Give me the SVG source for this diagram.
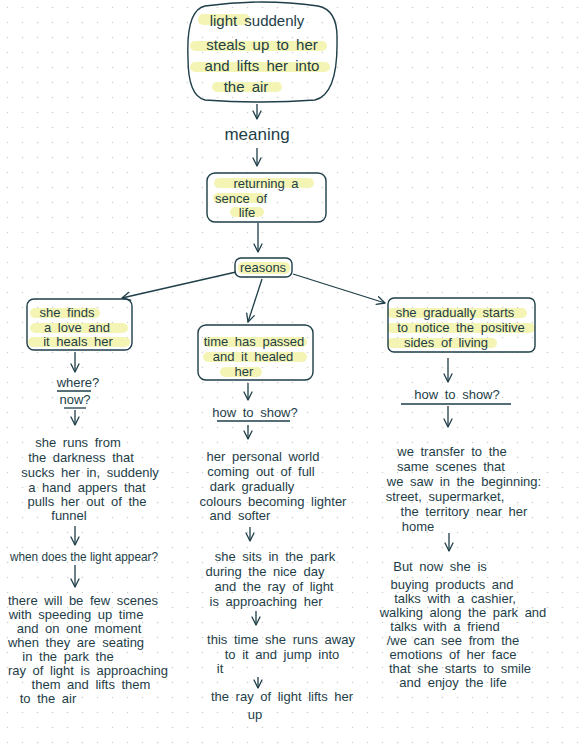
<svg xmlns="http://www.w3.org/2000/svg" width="580" height="750" viewBox="0 0 580 750">
<defs>
<pattern id="dots" x="0" y="0" width="15" height="15" patternUnits="userSpaceOnUse">
<circle cx="7.5" cy="7.5" r="0.8" fill="#cfcfcf"/>
</pattern>
<marker id="ah" viewBox="0 0 10 10" refX="9" refY="5" markerWidth="10" markerHeight="10" markerUnits="userSpaceOnUse" orient="auto">
<path d="M1,1 L9,5 L1,9" fill="none" stroke="#1e3e48" stroke-width="1.3" stroke-linecap="round" stroke-linejoin="round"/>
</marker>
<style>
text{font-family:"Liberation Sans","DejaVu Sans",sans-serif;fill:#1e3e48;text-anchor:middle;word-spacing:3px}
.t{font-size:13px}
.big{font-size:15px}
.box{fill:none;stroke:#1e3e48;stroke-width:1.4}
.hl{fill:#f4f5b4}
.ul{stroke:#1e3e48;stroke-width:1.3;fill:none}
.c line{stroke:#1e3e48;stroke-width:1.3;marker-end:url(#ah)}
</style>
</defs>
<rect width="580" height="750" fill="#ffffff"/>
<rect width="580" height="750" fill="url(#dots)"/>

<g id="top">
<rect class="hl" x="198" y="14" width="52" height="11" rx="5"/>
<rect class="hl" x="190" y="41" width="137" height="10" rx="5"/>
<rect class="hl" x="190" y="62" width="140" height="10" rx="5"/>
<rect class="hl" x="212" y="82" width="70" height="10" rx="5"/>
<path class="box" d="M205,6 Q262,-2 318,6 Q338,10 337,40 Q338,94 315,100 Q262,104 205,100 Q188,96 188,58 Q186,10 205,6 Z"/>
<text class="big" x="257" y="26">light suddenly</text>
<text class="big" x="262" y="50">steals up to her</text>
<text class="big" x="262" y="71">and lifts her into</text>
<text class="big" x="246" y="92">the air</text>
</g>

<g id="meaning">
<text x="257" y="140" style="font-size:17px">meaning</text>
</g>

<g id="returning">
<rect class="hl" x="214" y="178" width="100" height="10" rx="5"/>
<rect class="hl" x="213" y="193" width="52" height="10" rx="5"/>
<rect class="hl" x="230" y="207" width="34" height="10" rx="5"/>
<rect class="box" x="207" y="173" width="119" height="49" rx="8"/>
<text class="t" x="266" y="188">returning  a</text>
<text class="t" x="241" y="203">sence of</text>
<text class="t" x="247" y="217">life</text>
</g>

<g id="reasons">
<rect class="hl" x="238" y="262" width="52" height="12" rx="5"/>
<rect class="box" x="235" y="258" width="57" height="19" rx="6"/>
<text class="t" x="263" y="272">reasons</text>
</g>

<g id="love">
<rect class="hl" x="30" y="308" width="70" height="10" rx="5"/>
<rect class="hl" x="30" y="323" width="98" height="10" rx="5"/>
<rect class="hl" x="28" y="337" width="102" height="10" rx="5"/>
<rect class="box" x="27" y="299" width="105" height="51" rx="7"/>
<text class="t" x="67" y="317">she   finds</text>
<text class="t" x="77" y="332">a love  and</text>
<text class="t" x="78" y="346">it heals her</text>
</g>

<g id="healed">
<rect class="hl" x="203" y="337" width="104" height="10" rx="5"/>
<rect class="hl" x="203" y="352" width="104" height="10" rx="5"/>
<rect class="hl" x="220" y="367" width="42" height="10" rx="5"/>
<rect class="box" x="198" y="325" width="115" height="55" rx="8"/>
<text class="t" x="254" y="346">time has passed</text>
<text class="t" x="253" y="361">and it healed</text>
<text class="t" x="244" y="376">her</text>
</g>

<g id="positive">
<rect class="hl" x="387" y="308" width="140" height="10" rx="5"/>
<rect class="hl" x="387" y="323" width="148" height="10" rx="5"/>
<rect class="hl" x="387" y="338" width="110" height="10" rx="5"/>
<rect class="box" x="388" y="298" width="147" height="54" rx="6"/>
<text class="t" x="455" y="317">she gradually starts</text>
<text class="t" x="461" y="332">to notice the positive</text>
<text class="t" x="446" y="347">sides of living</text>
</g>

<g id="where">
<text class="t" x="78" y="387">where?</text>
<line class="ul" x1="57" y1="391" x2="91" y2="391"/>
<text class="t" x="75" y="404">now?</text>
<line class="ul" x1="64" y1="408" x2="86" y2="408"/>
</g>

<g id="runs">
<text class="t" x="78" y="447">she runs from</text>
<text class="t" x="81" y="462">the darkness that</text>
<text class="t" x="90" y="477">sucks her in, suddenly</text>
<text class="t" x="87" y="492">a hand appers that</text>
<text class="t" x="87" y="506">pulls her out of the</text>
<text class="t" x="69" y="520">funnel</text>
</g>

<g id="when">
<text class="t" x="84" y="561" textLength="148" lengthAdjust="spacingAndGlyphs" style="word-spacing:0">when does the light appear?</text>
</g>

<g id="scenes">
<text class="t" x="83" y="605">there will be few scenes</text>
<text class="t" x="76" y="619">with speeding up time</text>
<text class="t" x="79" y="633">and  on one moment</text>
<text class="t" x="76" y="647">when they are seating</text>
<text class="t" x="68" y="661">in the  park  the</text>
<text class="t" x="88" y="675">ray of light is approaching</text>
<text class="t" x="91" y="689">them and lifts them</text>
<text class="t" x="48" y="703">to the air</text>
</g>

<g id="how-mid">
<text class="t" x="255" y="417">how to show?</text>
<line class="ul" x1="217" y1="421" x2="290" y2="421"/>
</g>

<g id="world">
<text class="t" x="263" y="461">her personal world</text>
<text class="t" x="261" y="476">coming out of full</text>
<text class="t" x="252" y="491">dark  gradually</text>
<text class="t" x="273" y="506">colours becoming lighter</text>
<text class="t" x="240" y="520">and softer</text>
</g>

<g id="sits">
<text class="t" x="275" y="561">she sits in the park</text>
<text class="t" x="265" y="576">during the nice day</text>
<text class="t" x="274" y="591">and the ray of light</text>
<text class="t" x="266" y="606">is approaching her</text>
</g>

<g id="runs-away">
<text class="t" x="281" y="644">this time she runs away</text>
<text class="t" x="282" y="659">to it   and jump into</text>
<text class="t" x="220" y="673">it</text>
</g>

<g id="lifts">
<text class="t" x="282" y="701">the ray of light lifts her</text>
<text class="t" x="255" y="719">up</text>
</g>

<g id="how-right">
<text class="t" x="457" y="399">how  to  show?</text>
<line class="ul" x1="401" y1="404" x2="511" y2="404"/>
</g>

<g id="transfer">
<text class="t" x="452" y="456">we transfer to the</text>
<text class="t" x="451" y="471">same scenes that</text>
<text class="t" x="464" y="486">we saw in the beginning:</text>
<text class="t" x="445" y="501">street, supermarket,</text>
<text class="t" x="464" y="516">the territory near her</text>
<text class="t" x="418" y="531">home</text>
</g>

<g id="but-now">
<text class="t" x="440" y="571">But now  she  is</text>
<text class="t" x="452" y="589">buying  products and</text>
<text class="t" x="455" y="603">talks with a cashier,</text>
<text class="t" x="463" y="617">walking along the park and</text>
<text class="t" x="445" y="631">talks with a friend</text>
<text class="t" x="453" y="645">/we can see from the</text>
<text class="t" x="453" y="659">emotions of her face</text>
<text class="t" x="460" y="673">that she starts to smile</text>
<text class="t" x="453" y="687">and enjoy the life</text>
</g>

<g id="connectors" class="c">
<line x1="257" y1="104" x2="257" y2="119"/>
<line x1="257" y1="148" x2="257" y2="166"/>
<line x1="258" y1="223" x2="258" y2="252"/>
<line x1="236" y1="272" x2="122" y2="298"/>
<line x1="262" y1="279" x2="248" y2="322"/>
<line x1="293" y1="274" x2="385" y2="303"/>
<line x1="75" y1="352" x2="75" y2="372"/>
<line x1="75" y1="410" x2="75" y2="425"/>
<line x1="75" y1="526" x2="75" y2="545"/>
<line x1="75" y1="565" x2="75" y2="587"/>
<line x1="248" y1="383" x2="248" y2="400"/>
<line x1="248" y1="425" x2="248" y2="439"/>
<line x1="250" y1="527" x2="250" y2="541"/>
<line x1="256" y1="611" x2="256" y2="625"/>
<line x1="258" y1="677" x2="258" y2="688"/>
<line x1="448" y1="358" x2="448" y2="382"/>
<line x1="448" y1="406" x2="448" y2="427"/>
<line x1="449" y1="533" x2="449" y2="551"/>
</g>
</svg>
